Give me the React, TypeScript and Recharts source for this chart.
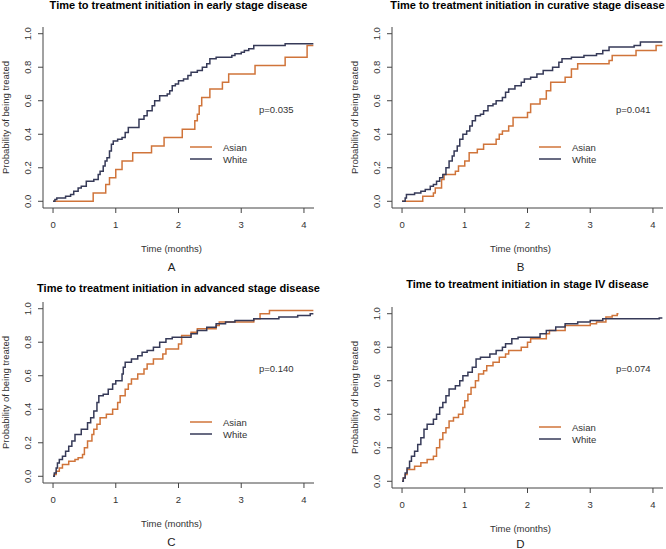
import React from 'react';
import { LineChart, Line, XAxis, YAxis } from 'recharts';

// step curves, [time in months, probability of being treated]
const earlyWhite = [
  [0, 0], [0.03, 0.01], [0.06, 0.02], [0.2, 0.03], [0.28, 0.04], [0.33, 0.06], [0.4, 0.08], [0.45, 0.09],
  [0.53, 0.12], [0.65, 0.13], [0.72, 0.16], [0.75, 0.18], [0.8, 0.21], [0.83, 0.24], [0.86, 0.26], [0.9, 0.3],
  [0.93, 0.34], [0.96, 0.36], [1.03, 0.37], [1.1, 0.38], [1.15, 0.41], [1.2, 0.44], [1.37, 0.49], [1.45, 0.51],
  [1.5, 0.54], [1.58, 0.57], [1.62, 0.6], [1.7, 0.63], [1.82, 0.64], [1.86, 0.66], [1.9, 0.69], [1.95, 0.7],
  [2.0, 0.72], [2.08, 0.73], [2.15, 0.75], [2.2, 0.77], [2.3, 0.78], [2.38, 0.8], [2.45, 0.82], [2.5, 0.85],
  [2.6, 0.86], [2.85, 0.87], [2.9, 0.88], [3.0, 0.89], [3.05, 0.9], [3.12, 0.91], [3.2, 0.93], [3.7, 0.94],
  [4.15, 0.94],
];
const earlyAsian = [
  [0, 0], [0.64, 0.05], [0.84, 0.1], [0.9, 0.14], [1.0, 0.19], [1.1, 0.24], [1.27, 0.29], [1.57, 0.33],
  [1.77, 0.38], [2.06, 0.43], [2.26, 0.48], [2.3, 0.52], [2.33, 0.57], [2.37, 0.62], [2.5, 0.67], [2.7, 0.71],
  [2.8, 0.76], [3.22, 0.81], [3.7, 0.86], [4.05, 0.93], [4.15, 0.93],
];
const curativeWhite = [
  [0, 0], [0.05, 0.02], [0.07, 0.04], [0.2, 0.05], [0.3, 0.06], [0.37, 0.07], [0.45, 0.09], [0.5, 0.1],
  [0.55, 0.12], [0.6, 0.14], [0.65, 0.16], [0.7, 0.2], [0.75, 0.24], [0.8, 0.27], [0.83, 0.3], [0.88, 0.33],
  [0.92, 0.37], [0.97, 0.4], [1.03, 0.42], [1.08, 0.45], [1.12, 0.48], [1.17, 0.51], [1.25, 0.52], [1.3, 0.54],
  [1.37, 0.57], [1.45, 0.58], [1.5, 0.6], [1.6, 0.62], [1.65, 0.65], [1.7, 0.67], [1.8, 0.69], [1.9, 0.71],
  [1.95, 0.73], [2.05, 0.74], [2.15, 0.76], [2.25, 0.78], [2.4, 0.8], [2.5, 0.83], [2.55, 0.85], [2.7, 0.86],
  [2.9, 0.87], [3.1, 0.88], [3.2, 0.9], [3.3, 0.92], [3.7, 0.93], [3.8, 0.95], [4.15, 0.95],
];
const curativeAsian = [
  [0, 0], [0.33, 0.03], [0.5, 0.05], [0.53, 0.08], [0.63, 0.13], [0.67, 0.16], [0.85, 0.18], [0.9, 0.21],
  [1.0, 0.24], [1.07, 0.29], [1.2, 0.31], [1.3, 0.34], [1.5, 0.37], [1.55, 0.4], [1.6, 0.42], [1.7, 0.45],
  [1.77, 0.5], [2.0, 0.53], [2.05, 0.58], [2.2, 0.61], [2.3, 0.66], [2.37, 0.71], [2.6, 0.74], [2.7, 0.79],
  [2.8, 0.82], [3.3, 0.84], [3.35, 0.87], [3.73, 0.9], [4.05, 0.93], [4.15, 0.93],
];
const advancedWhite = [
  [0, 0], [0.02, 0.02], [0.05, 0.05], [0.07, 0.08], [0.1, 0.1], [0.15, 0.12], [0.2, 0.15], [0.25, 0.18],
  [0.3, 0.21], [0.35, 0.25], [0.45, 0.28], [0.55, 0.32], [0.6, 0.35], [0.65, 0.39], [0.7, 0.44], [0.73, 0.48],
  [0.8, 0.49], [0.88, 0.52], [0.95, 0.55], [1.0, 0.57], [1.1, 0.61], [1.12, 0.65], [1.15, 0.68], [1.25, 0.7],
  [1.35, 0.72], [1.42, 0.74], [1.5, 0.75], [1.6, 0.77], [1.7, 0.8], [1.8, 0.82], [1.9, 0.83], [2.2, 0.85],
  [2.3, 0.87], [2.45, 0.89], [2.6, 0.91], [2.75, 0.92], [2.9, 0.93], [3.2, 0.94], [3.6, 0.95], [3.9, 0.96],
  [4.1, 0.97], [4.15, 0.97],
];
const advancedAsian = [
  [0, 0], [0.02, 0.01], [0.05, 0.03], [0.1, 0.05], [0.15, 0.07], [0.25, 0.09], [0.35, 0.1], [0.4, 0.11],
  [0.47, 0.13], [0.5, 0.17], [0.55, 0.21], [0.62, 0.25], [0.65, 0.28], [0.7, 0.31], [0.75, 0.35], [0.85, 0.37],
  [0.95, 0.4], [1.03, 0.44], [1.07, 0.48], [1.15, 0.52], [1.2, 0.55], [1.25, 0.58], [1.35, 0.61], [1.45, 0.64],
  [1.5, 0.67], [1.6, 0.7], [1.75, 0.73], [1.8, 0.76], [2.0, 0.79], [2.05, 0.84], [2.2, 0.86], [2.3, 0.88],
  [2.6, 0.9], [2.65, 0.92], [3.2, 0.94], [3.3, 0.97], [3.45, 0.99], [4.15, 0.99],
];
const stage4White = [
  [0, 0], [0.02, 0.02], [0.05, 0.05], [0.08, 0.08], [0.12, 0.12], [0.15, 0.15], [0.2, 0.18], [0.25, 0.22],
  [0.3, 0.26], [0.35, 0.31], [0.4, 0.34], [0.5, 0.37], [0.55, 0.4], [0.6, 0.44], [0.65, 0.47], [0.7, 0.51],
  [0.75, 0.55], [0.85, 0.57], [0.92, 0.6], [0.97, 0.63], [1.05, 0.65], [1.12, 0.68], [1.18, 0.73], [1.25, 0.74],
  [1.4, 0.76], [1.5, 0.78], [1.6, 0.8], [1.65, 0.82], [1.75, 0.85], [1.85, 0.86], [2.2, 0.88], [2.3, 0.9],
  [2.45, 0.92], [2.6, 0.94], [2.8, 0.95], [3.0, 0.96], [3.2, 0.97], [4.1, 0.975], [4.15, 0.975],
];
const stage4Asian = [
  [0, 0], [0.02, 0.02], [0.05, 0.04], [0.08, 0.07], [0.2, 0.09], [0.3, 0.11], [0.4, 0.13], [0.5, 0.15],
  [0.55, 0.2], [0.6, 0.25], [0.65, 0.29], [0.7, 0.32], [0.75, 0.36], [0.82, 0.38], [0.9, 0.4], [0.97, 0.44],
  [1.0, 0.48], [1.05, 0.52], [1.1, 0.56], [1.17, 0.6], [1.22, 0.64], [1.3, 0.66], [1.35, 0.69], [1.45, 0.71],
  [1.55, 0.74], [1.65, 0.76], [1.7, 0.78], [1.9, 0.8], [2.0, 0.83], [2.05, 0.85], [2.3, 0.88], [2.35, 0.9],
  [2.6, 0.93], [3.0, 0.94], [3.1, 0.95], [3.25, 0.98], [3.35, 0.99], [3.43, 1.0], [3.45, 1.0],
];

const titles = [
  'Time to treatment initiation in early stage disease',
  'Time to treatment initiation in curative stage disease',
  'Time to treatment initiation in advanced stage disease',
  'Time to treatment initiation in stage IV disease',
];
const letters = ['A', 'B', 'C', 'D'];
const pValues = ['p=0.035', 'p=0.041', 'p=0.140', 'p=0.074'];
const xTicks = [0, 1, 2, 3, 4];
const yTicks = [0, 0.2, 0.4, 0.6, 0.8, 1.0];

const ASIAN = '#d0743a';
const WHITE = '#363a58';
const FONT = '"Liberation Sans", Arial, Helvetica, sans-serif';

const PW = 271; // plot width
const PH = 181; // plot height

const toPts = (arr: number[][]) => arr.map(([t, p]) => ({ t, p }));

// chart box position, left margin, title / letter offsets, p-value spot (relative to plot)
const layout = [
  { left: 0, top: 0, ml: 43, titleDy: -22, letterDy: 59, px: 216, py: 82, curves: [earlyAsian, earlyWhite] },
  { left: 333, top: 0, ml: 59, titleDy: -22, letterDy: 59, px: 224, py: 82, curves: [curativeAsian, curativeWhite] },
  { left: 0, top: 275, ml: 43, titleDy: -14, letterDy: 59, px: 216, py: 66, curves: [advancedAsian, advancedWhite] },
  { left: 333, top: 280, ml: 59, titleDy: -23, letterDy: 55.5, px: 224, py: 61, curves: [stage4Asian, stage4White] },
];

const XTick = ({ x, y, payload }: any) => (
  <text x={x} y={y + 9} textAnchor="middle" dominantBaseline="central" fontSize={9.5} fill="#333" fontFamily={FONT}>
    {payload.value}
  </text>
);

const YTick = ({ x, y, payload }: any) => (
  <text
    x={x - 8}
    y={y}
    transform={`rotate(-90, ${x - 8}, ${y})`}
    textAnchor="middle"
    dominantBaseline="central"
    fontSize={9.5}
    fill="#333"
    fontFamily={FONT}
  >
    {Number(payload.value).toFixed(1)}
  </text>
);

function Panel({ idx }: { idx: number }) {
  const L = layout[idx];
  const mt = 27;
  const ml = L.ml;
  const W = 333;
  const H = 275;
  const bottom = mt + PH;
  return (
    <div style={{ position: 'absolute', left: L.left, top: L.top, width: W, height: H }}>
      <LineChart width={W} height={H} margin={{ top: mt, left: 0, right: W - ml - PW, bottom: 0 }}>
        <XAxis
          type="number"
          dataKey="t"
          domain={[-0.16, 4.16]}
          ticks={xTicks}
          interval={0}
          height={H - bottom}
          tick={<XTick />}
          tickSize={5}
          stroke="#444"
          allowDataOverflow
        />
        <YAxis
          type="number"
          dataKey="p"
          domain={[-0.04, 1.04]}
          ticks={yTicks}
          interval={0}
          width={ml}
          tick={<YTick />}
          tickSize={5}
          stroke="#444"
          allowDataOverflow
        />
        <Line
          data={toPts(L.curves[0])}
          dataKey="p"
          type="stepAfter"
          stroke={ASIAN}
          strokeWidth={1.5}
          dot={false}
          isAnimationActive={false}
        />
        <Line
          data={toPts(L.curves[1])}
          dataKey="p"
          type="stepAfter"
          stroke={WHITE}
          strokeWidth={1.5}
          dot={false}
          isAnimationActive={false}
        />
      </LineChart>
      <svg
        width={W}
        height={H}
        style={{ position: 'absolute', left: 0, top: 0, pointerEvents: 'none', overflow: 'visible' }}
        fontFamily={FONT}
      >
        <text x={ml + PW / 2} y={mt + L.titleDy} textAnchor="middle" dominantBaseline="central" fontSize={11} fontWeight="bold" fill="#000">
          {titles[idx]}
        </text>
        <text
          x={ml - 38}
          y={mt + PH / 2}
          transform={`rotate(-90, ${ml - 38}, ${mt + PH / 2})`}
          textAnchor="middle"
          dominantBaseline="central"
          fontSize={9.5}
          fill="#333"
        >
          Probability of being treated
        </text>
        <text x={ml + PW / 2 - 7} y={bottom + 40} textAnchor="middle" dominantBaseline="central" fontSize={9.5} fill="#333">
          Time (months)
        </text>
        <text x={ml + PW / 2 - 7} y={bottom + L.letterDy} textAnchor="middle" dominantBaseline="central" fontSize={11.5} fill="#222">
          {letters[idx]}
        </text>
        <text x={ml + L.px} y={mt + L.py} dominantBaseline="central" fontSize={9.5} fill="#333">
          {pValues[idx]}
        </text>
        <line x1={ml + 147} x2={ml + 169} y1={mt + 120} y2={mt + 120} stroke={ASIAN} strokeWidth={1.5} />
        <line x1={ml + 147} x2={ml + 169} y1={mt + 132} y2={mt + 132} stroke={WHITE} strokeWidth={1.5} />
        <text x={ml + 180} y={mt + 120} dominantBaseline="central" fontSize={9.5} fill="#333">Asian</text>
        <text x={ml + 180} y={mt + 132} dominantBaseline="central" fontSize={9.5} fill="#333">White</text>
      </svg>
    </div>
  );
}

export default function App() {
  return (
    <div style={{ position: 'absolute', left: 0, top: 0, width: 666, height: 549, background: '#fff', overflow: 'hidden' }}>
      {[0, 1, 2, 3].map((i) => (
        <Panel key={i} idx={i} />
      ))}
    </div>
  );
}
